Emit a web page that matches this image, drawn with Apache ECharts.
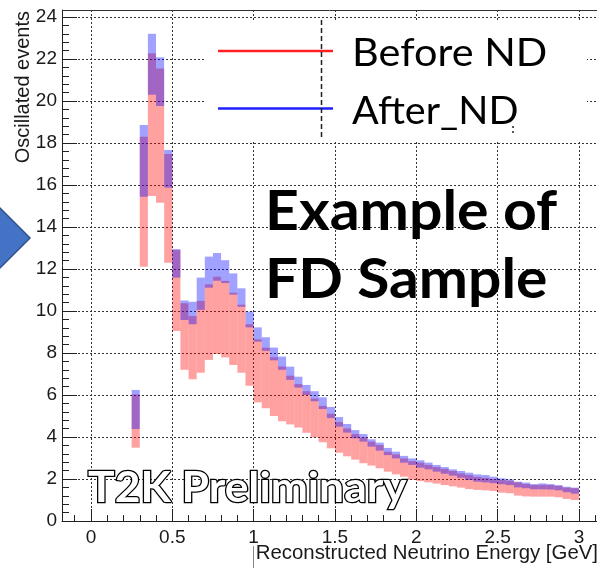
<!DOCTYPE html>
<html><head><meta charset="utf-8">
<script src="https://cdn.jsdelivr.net/npm/echarts@6/dist/echarts.min.js"></script>
<style>html,body{margin:0;padding:0;background:#fff}#c{width:597px;height:569px}</style>
</head><body><div id="c"></div>
<script>
// Bin lower edges (GeV), bin width 0.05
const binStart = [0.25,0.30,0.35,0.40,0.45,0.50,0.55,0.60,0.65,0.70,0.75,0.80,0.85,0.90,0.95,1.00,1.05,1.10,1.15,1.20,1.25,1.30,1.35,1.40,1.45,1.50,1.55,1.60,1.65,1.70,1.75,1.80,1.85,1.90,1.95,2.00,2.05,2.10,2.15,2.20,2.25,2.30,2.35,2.40,2.45,2.50,2.55,2.60,2.65,2.70,2.75,2.80,2.85,2.90,2.95];
const binWidth = 0.05;
// Before ND band (low / high)
const beforeLow  = [3.49,12.11,15.48,15.16,12.3,9.05,7.2,6.75,7.06,7.67,7.95,7.79,7.43,7.06,6.44,5.65,5.37,5.0,4.75,4.6,4.45,4.2,3.98,3.75,3.46,3.25,3.08,2.92,2.75,2.64,2.51,2.35,2.22,2.11,1.97,1.9,1.84,1.78,1.71,1.65,1.59,1.52,1.48,1.46,1.43,1.35,1.32,1.21,1.17,1.16,1.16,1.16,1.13,1.05,1.0];
const beforeHigh = [6.03,18.3,22.27,21.55,17.48,12.9,10.37,9.76,10.48,11.27,11.63,11.43,10.87,10.3,9.37,8.65,8.25,7.8,7.36,6.92,6.52,6.18,5.83,5.48,5.11,4.71,4.41,4.14,3.98,3.78,3.62,3.3,3.17,2.98,2.85,2.78,2.67,2.57,2.48,2.38,2.27,2.19,2.1,2.06,2.0,1.95,1.92,1.84,1.76,1.71,1.72,1.71,1.67,1.59,1.56];
// After ND band (low / high)
const afterLow   = [4.38,15.44,20.3,19.76,15.87,11.59,9.57,9.37,10.05,11.11,11.44,11.33,10.78,10.2,9.22,8.54,8.1,7.65,7.2,6.72,6.35,6.0,5.7,5.33,4.9,4.49,4.21,3.94,3.78,3.54,3.35,3.14,2.98,2.78,2.67,2.54,2.46,2.35,2.25,2.16,2.06,1.95,1.87,1.84,1.8,1.75,1.71,1.6,1.56,1.51,1.51,1.5,1.46,1.37,1.3];
const afterHigh  = [6.24,18.86,23.2,22.08,17.67,12.95,10.5,10.44,11.59,12.59,12.76,12.42,11.79,11.08,9.97,9.22,8.75,8.26,7.83,7.35,6.87,6.48,6.18,5.89,5.43,4.95,4.62,4.33,4.14,3.89,3.73,3.48,3.3,3.1,2.98,2.89,2.78,2.67,2.57,2.46,2.38,2.3,2.22,2.19,2.11,2.03,1.98,1.87,1.83,1.76,1.79,1.76,1.71,1.63,1.59];
// Tick values
const xMajorTicks = [0,0.5,1,1.5,2,2.5,3];
const xMinorTicks = [-0.1,0.1,0.2,0.3,0.4,0.6,0.7,0.8,0.9,1.1,1.2,1.3,1.4,1.6,1.7,1.8,1.9,2.1,2.2,2.3,2.4,2.6,2.7,2.8,2.9,3.1];
const yMajorTicks = [0,2,4,6,8,10,12,14,16,18,20,22,24];
const yMinorTicks = [0.4,0.8,1.2,1.6,2.4,2.8,3.2,3.6,4.4,4.8,5.2,5.6,6.4,6.8,7.2,7.6,8.4,8.8,9.2,9.6,10.4,10.8,11.2,11.6,12.4,12.8,13.2,13.6,14.4,14.8,15.2,15.6,16.4,16.8,17.2,17.6,18.4,18.8,19.2,19.6,20.4,20.8,21.2,21.6,22.4,22.8,23.2,23.6];
const seriesNames = ['Before ND','After_ND'];

const XMIN = -0.178, XMAX = 3.111, YMIN = 0, YMAX = 24.333;

function bandData(lo, hi){
  return binStart.map((x0,i)=>[x0, x0+binWidth, lo[i], hi[i]]);
}
function renderBand(color){
  return function(params, api){
    const p0 = api.coord([api.value(0), api.value(3)]);
    const p1 = api.coord([api.value(1), api.value(2)]);
    return {type:'rect', shape:{x:p0[0], y:p0[1], width:p1[0]-p0[0], height:p1[1]-p0[1]},
      style:{fill:color}};
  };
}
const chart = echarts.init(document.getElementById('c'), null, {renderer:'canvas'});
const axisLineStyle = {color:'#222', width:1};
const labelFont = {fontFamily:'Liberation Sans', fontSize:19, color:'#1a1a1a'};
chart.setOption({
  animation:false,
  backgroundColor:'#fff',
  grid:{left:62, top:10, right:0, bottom:48, show:false},
  xAxis:[
    {type:'value', min:XMIN, max:XMAX, position:'bottom',
     axisLine:{show:true, onZero:false, lineStyle:axisLineStyle},
     axisTick:{show:true, inside:true, length:12, customValues:xMajorTicks, lineStyle:axisLineStyle},
     axisLabel:{show:true, customValues:xMajorTicks, margin:7, ...labelFont, formatter:v=>String(v)},
     splitLine:{show:true, lineStyle:{color:'#333', type:[2,2], width:1}},
     minorTick:{show:false}},
    {type:'value', min:XMIN, max:XMAX, position:'bottom',
     axisLine:{show:false, onZero:false},
     axisTick:{show:true, inside:true, length:6, customValues:xMinorTicks, lineStyle:axisLineStyle},
     axisLabel:{show:false}, splitLine:{show:false}}
  ],
  yAxis:[
    {type:'value', min:YMIN, max:YMAX, position:'left',
     axisLine:{show:true, onZero:false, lineStyle:axisLineStyle},
     axisTick:{show:true, inside:true, length:15, customValues:yMajorTicks, lineStyle:axisLineStyle},
     axisLabel:{show:true, customValues:yMajorTicks, margin:5, ...labelFont},
     splitLine:{show:true, lineStyle:{color:'#333', type:[2,2], width:1}}},
    {type:'value', min:YMIN, max:YMAX, position:'left',
     axisLine:{show:false, onZero:false},
     axisTick:{show:true, inside:true, length:7, customValues:yMinorTicks, lineStyle:axisLineStyle},
     axisLabel:{show:false}, splitLine:{show:false}}
  ],
  series:[
    {type:'custom', name:seriesNames[0], renderItem:renderBand('rgba(255,0,0,0.37)'),
     encode:{x:[0,1], y:[2,3]}, data:bandData(beforeLow, beforeHigh), z:3, clip:true},
    {type:'custom', name:seriesNames[1], renderItem:renderBand('rgba(0,0,255,0.37)'),
     encode:{x:[0,1], y:[2,3]}, data:bandData(afterLow, afterHigh), z:4, clip:true}
  ],
  graphic:[
    // top frame line
    {type:'line', shape:{x1:62, y1:10.5, x2:597, y2:10.5}, style:{stroke:'#333', lineWidth:1}, z:5},
    // legend box (white)
    {type:'rect', shape:{x:205, y:20, width:382, height:121}, style:{fill:'#fff'}, z:1},
    {type:'line', shape:{x1:218, y1:51, x2:333, y2:51}, style:{stroke:'#ff2020', lineWidth:2.5}, z:6},
    {type:'line', shape:{x1:218, y1:108.5, x2:333, y2:108.5}, style:{stroke:'#2020ff', lineWidth:2.5}, z:6},
    {type:'line', shape:{x1:321.5, y1:20, x2:321.5, y2:137}, style:{stroke:'#222', lineWidth:1.5, lineDash:[5,3]}, z:6},
    {type:'line', shape:{x1:513, y1:126, x2:513, y2:135}, style:{stroke:'#222', lineWidth:1.5, lineDash:[2,3]}, z:6},
    {type:'text', x:352, y:73, scaleX:1.09, style:{text:seriesNames[0], font:'38px Lato', fill:'#000', verticalAlign:'bottom'}, z:6},
    {type:'text', x:352, y:130.5, scaleX:1.04, style:{text:seriesNames[1], font:'38px Lato', fill:'#000', verticalAlign:'bottom'}, z:6},
    // big annotation
    {type:'text', x:265, y:185, scaleX:1.072, style:{text:'Example of', font:'bold 55px Lato', fill:'#000', verticalAlign:'top'}, z:6},
    {type:'text', x:265, y:253, scaleX:1.068, style:{text:'FD Sample', font:'bold 55px Lato', fill:'#000', verticalAlign:'top'}, z:6},
    // T2K Preliminary outlined
    {type:'text', x:88, y:467, scaleX:1.057, style:{text:'T2K Preliminary', font:'bold 42px Lato', fill:'#fff', stroke:'#000', lineWidth:2.5, verticalAlign:'top'}, z:6},
    // axis titles
    {type:'text', x:23, y:11, rotation:Math.PI/2, style:{text:'Oscillated events', font:'20px Liberation Sans', fill:'#1a1a1a', align:'right', verticalAlign:'middle'}, z:6},
    {type:'text', x:598, y:553, style:{text:'Reconstructed Neutrino Energy [GeV]', font:'20.4px Liberation Sans', fill:'#1a1a1a', align:'right', verticalAlign:'middle'}, z:6},
    {type:'line', shape:{x1:253.5, y1:546, x2:253.5, y2:568}, style:{stroke:'#888', lineWidth:1}, z:6},
    // blue arrow at left
    {type:'polygon', shape:{points:[[-2,206],[30,238],[-2,270]]}, style:{fill:'#4472c4', stroke:'#2f528f', lineWidth:1.5}, z:6}
  ]
});
</script></body></html>
